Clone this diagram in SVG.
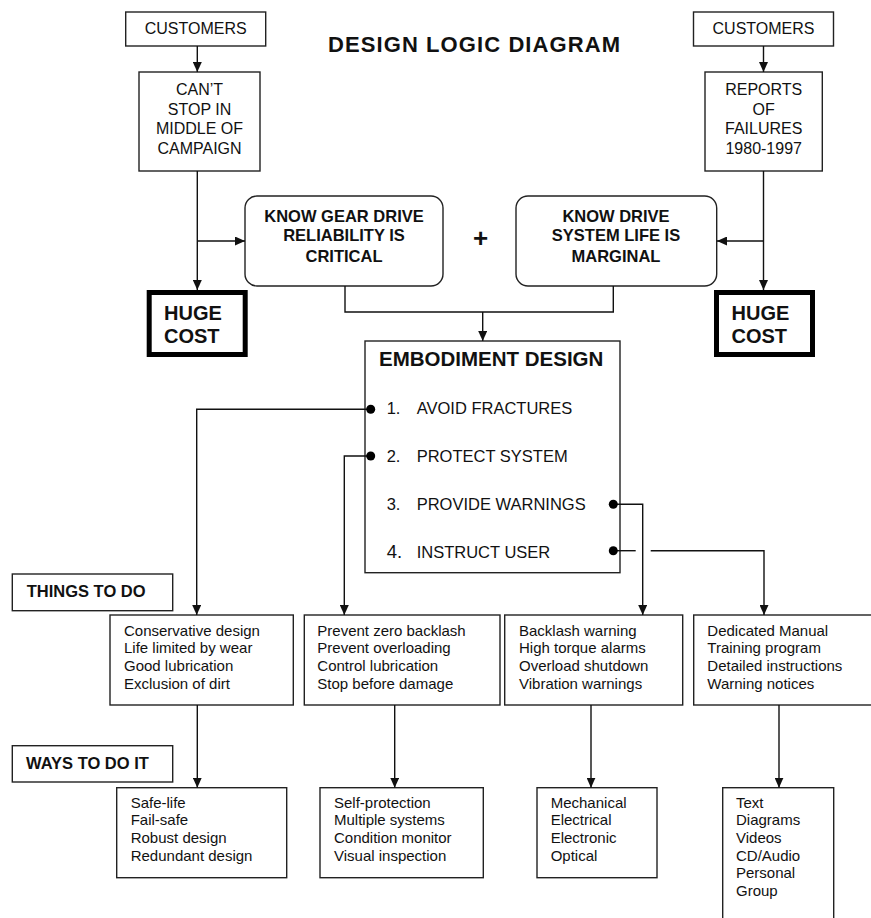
<svg xmlns="http://www.w3.org/2000/svg" width="871" height="918" viewBox="0 0 871 918">
<defs>
<marker id="arr" markerUnits="userSpaceOnUse" markerWidth="10" markerHeight="9" refX="10" refY="4.5" orient="auto">
<path d="M0,0 L10,4.5 L0,9 z" fill="#111"/>
</marker>
<style>
text{font-family:"Liberation Sans",Arial,sans-serif;fill:#111}
.box{fill:#fff;stroke:#222;stroke-width:1.4}
.thick{fill:#fff;stroke:#000;stroke-width:5}
.c{text-anchor:middle}
.reg{font-size:16px}
.b{font-weight:bold}
.bl{font-size:16.5px;font-weight:bold}
.huge{font-size:20px;font-weight:bold}
.item{font-size:16.5px}
.list{font-size:15px}
.ln{fill:none;stroke:#111;stroke-width:1.4}
.dot{fill:#000}
</style>
</defs>
<rect width="871" height="918" fill="#fff"/>
<text x="474" y="52" class="c b" font-size="22" textLength="292" lengthAdjust="spacing">DESIGN LOGIC DIAGRAM</text>

<g id="customers-left">
<rect class="box" x="125.7" y="12" width="140" height="34"/>
<text x="195.7" y="34" class="c reg">CUSTOMERS</text>
</g>
<g id="cant-stop">
<rect class="box" x="139" y="72" width="121" height="99"/>
<text class="c reg"><tspan x="199.5" y="95">CAN’T</tspan><tspan x="199.5" y="114.5">STOP IN</tspan><tspan x="199.5" y="134">MIDDLE OF</tspan><tspan x="199.5" y="153.5">CAMPAIGN</tspan></text>
</g>
<g id="customers-right">
<rect class="box" x="693.5" y="12" width="140" height="34"/>
<text x="763.5" y="34" class="c reg">CUSTOMERS</text>
</g>
<g id="reports">
<rect class="box" x="705" y="72" width="117.3" height="99"/>
<text class="c reg"><tspan x="763.7" y="95">REPORTS</tspan><tspan x="763.7" y="114.5">OF</tspan><tspan x="763.7" y="134">FAILURES</tspan><tspan x="763.7" y="153.5">1980-1997</tspan></text>
</g>
<g id="know-gear">
<rect class="box" x="245" y="196" width="198" height="90" rx="12"/>
<text class="c bl"><tspan x="344" y="221.5">KNOW GEAR DRIVE</tspan><tspan x="344" y="241">RELIABILITY IS</tspan><tspan x="344" y="261.5">CRITICAL</tspan></text>
</g>
<g id="plus">
<text x="480.5" y="247" class="c b" font-size="26">+</text>
</g>
<g id="know-drive">
<rect class="box" x="516" y="196" width="200.7" height="90" rx="12"/>
<text class="c bl"><tspan x="616" y="221.5">KNOW DRIVE</tspan><tspan x="616" y="241">SYSTEM LIFE IS</tspan><tspan x="616" y="261.5">MARGINAL</tspan></text>
</g>
<g id="huge-cost-left">
<rect class="thick" x="149.2" y="292.5" width="96" height="62"/>
<text class="huge"><tspan x="164" y="320">HUGE</tspan><tspan x="164" y="343">COST</tspan></text>
</g>
<g id="huge-cost-right">
<rect class="thick" x="716.5" y="292.5" width="96" height="62"/>
<text class="huge"><tspan x="731.5" y="320">HUGE</tspan><tspan x="731.5" y="343">COST</tspan></text>
</g>
<g id="embodiment">
<rect class="box" x="365" y="341" width="255" height="231.7"/>
<text x="379" y="366" font-size="20.5" class="b">EMBODIMENT DESIGN</text>
<text class="item" x="386.7" y="414">1.</text><text class="item" x="416.7" y="414">AVOID FRACTURES</text>
<text class="item" x="386.7" y="461.7">2.</text><text class="item" x="416.7" y="461.7">PROTECT SYSTEM</text>
<text class="item" x="386.7" y="510">3.</text><text class="item" x="416.7" y="510">PROVIDE WARNINGS</text>
<text x="386.7" y="557.7" font-size="18.5">4.</text><text class="item" x="416.7" y="557.7">INSTRUCT USER</text>
</g>
<g id="things-to-do">
<rect class="box" x="12.3" y="574" width="160.4" height="36.7"/>
<text x="26.7" y="597" class="bl">THINGS TO DO</text>
</g>
<g id="ways-to-do-it">
<rect class="box" x="12.3" y="745.7" width="160.4" height="36.3"/>
<text x="26" y="768.5" class="bl">WAYS TO DO IT</text>
</g>
<g id="conservative">
<rect class="box" x="110" y="615" width="183.3" height="90"/>
<text class="list"><tspan x="124" y="635.7">Conservative design</tspan><tspan x="124" y="653.4">Life limited by wear</tspan><tspan x="124" y="671.1">Good lubrication</tspan><tspan x="124" y="688.8">Exclusion of dirt</tspan></text>
</g>
<g id="prevent">
<rect class="box" x="304.3" y="615" width="195.7" height="90"/>
<text class="list"><tspan x="317.3" y="635.7">Prevent zero backlash</tspan><tspan x="317.3" y="653.4">Prevent overloading</tspan><tspan x="317.3" y="671.1">Control lubrication</tspan><tspan x="317.3" y="688.8">Stop before damage</tspan></text>
</g>
<g id="backlash">
<rect class="box" x="504.7" y="615" width="178" height="90"/>
<text class="list"><tspan x="519" y="635.7">Backlash warning</tspan><tspan x="519" y="653.4">High torque alarms</tspan><tspan x="519" y="671.1">Overload shutdown</tspan><tspan x="519" y="688.8">Vibration warnings</tspan></text>
</g>
<g id="dedicated">
<rect class="box" x="693.7" y="615" width="180" height="90"/>
<text class="list"><tspan x="707.3" y="635.7">Dedicated Manual</tspan><tspan x="707.3" y="653.4">Training program</tspan><tspan x="707.3" y="671.1">Detailed instructions</tspan><tspan x="707.3" y="688.8">Warning notices</tspan></text>
</g>
<g id="safe-life">
<rect class="box" x="116.7" y="787.7" width="170" height="90"/>
<text class="list"><tspan x="130.7" y="807.5">Safe-life</tspan><tspan x="130.7" y="825.2">Fail-safe</tspan><tspan x="130.7" y="842.9">Robust design</tspan><tspan x="130.7" y="860.6">Redundant design</tspan></text>
</g>
<g id="self-protection">
<rect class="box" x="320" y="787.7" width="163.3" height="90"/>
<text class="list"><tspan x="334" y="807.5">Self-protection</tspan><tspan x="334" y="825.2">Multiple systems</tspan><tspan x="334" y="842.9">Condition monitor</tspan><tspan x="334" y="860.6">Visual inspection</tspan></text>
</g>
<g id="mechanical">
<rect class="box" x="537" y="787.7" width="120" height="90"/>
<text class="list"><tspan x="550.7" y="807.5">Mechanical</tspan><tspan x="550.7" y="825.2">Electrical</tspan><tspan x="550.7" y="842.9">Electronic</tspan><tspan x="550.7" y="860.6">Optical</tspan></text>
</g>
<g id="text-media">
<rect class="box" x="722.7" y="787.7" width="111" height="140"/>
<text class="list"><tspan x="736" y="807.5">Text</tspan><tspan x="736" y="825.2">Diagrams</tspan><tspan x="736" y="842.9">Videos</tspan><tspan x="736" y="860.6">CD/Audio</tspan><tspan x="736" y="878.3">Personal</tspan><tspan x="736" y="896">Group</tspan></text>
</g>

<g id="connectors">
<path class="ln" d="M197.3,46 V72" marker-end="url(#arr)"/>
<path class="ln" d="M197.3,171 V290" marker-end="url(#arr)"/>
<path class="ln" d="M197.3,241 H245" marker-end="url(#arr)"/>
<path class="ln" d="M763.5,46 V72" marker-end="url(#arr)"/>
<path class="ln" d="M763.5,171 V290" marker-end="url(#arr)"/>
<path class="ln" d="M763.5,241 H717" marker-end="url(#arr)"/>
<path class="ln" d="M345,286 V312 H613.3 V286"/>
<path class="ln" d="M482.7,312 V341" marker-end="url(#arr)"/>
<path class="ln" d="M370.7,409.3 H196.7 V615" marker-end="url(#arr)"/>
<path class="ln" d="M370.7,456 H344.3 V615" marker-end="url(#arr)"/>
<path class="ln" d="M613.3,504.3 H642.7 V615" marker-end="url(#arr)"/>
<path class="ln" d="M613.3,550.7 H635.7"/>
<path class="ln" d="M650.7,550.7 H764 V615" marker-end="url(#arr)"/>
<path class="ln" d="M197.3,705 V787.7" marker-end="url(#arr)"/>
<path class="ln" d="M394.7,705 V787.7" marker-end="url(#arr)"/>
<path class="ln" d="M591,705 V787.7" marker-end="url(#arr)"/>
<path class="ln" d="M779,705 V787.7" marker-end="url(#arr)"/>
<circle class="dot" cx="370.7" cy="409.3" r="4.5"/>
<circle class="dot" cx="370.7" cy="456" r="4.5"/>
<circle class="dot" cx="613.3" cy="504.3" r="4.5"/>
<circle class="dot" cx="613.3" cy="550.7" r="4.5"/>
</g>
</svg>
